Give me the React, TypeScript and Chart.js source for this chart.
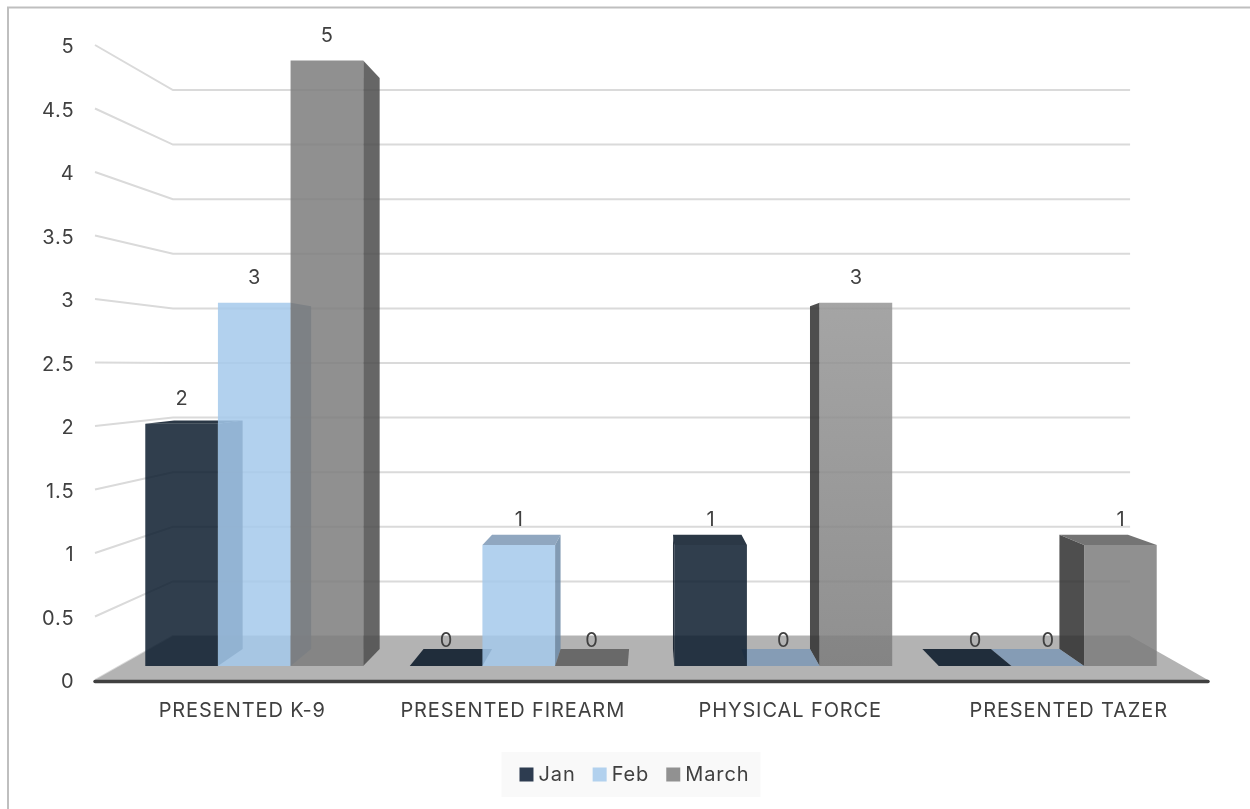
import React, { useEffect, useRef } from "react";
import { Chart, registerables } from "chart.js";

Chart.register(...registerables);

const categories = ["PRESENTED K-9", "PRESENTED FIREARM", "PHYSICAL FORCE", "PRESENTED TAZER"];
const janValues = [2, 0, 1, 0];
const febValues = [3, 1, 0, 0];
const marchValues = [5, 0, 3, 1];
const seriesNames = ["Jan", "Feb", "March"];
const yTicks = [0, 0.5, 1, 1.5, 2, 2.5, 3, 3.5, 4, 4.5, 5];

const FONT = "Inter";
const FS = 20;
const TEXT = "#404040";

const frontColors = ["rgba(12,28,46,0.85)", "rgba(165,201,235,0.85)", "rgba(125,125,125,0.85)"];
const legendColors = ["#2d3c50", "#b2d1ee", "#919191"];
const topColors = ["rgba(6,21,38,0.85)", "rgba(125,152,181,0.85)", "rgba(92,92,92,0.85)"];
const rightColors = ["rgba(15,30,50,0.85)", "rgba(108,138,167,0.85)", "rgba(75,75,75,0.85)"];
const leftColors = ["rgba(3,15,30,0.85)", "rgba(90,115,140,0.85)", "rgba(47,47,47,0.85)"];

// perspective of the 3D box
const VP = { x: 651.5, y: 366 };
const BAR_DEPTH = 0.943;
const WALL_DEPTH = 0.86;
const AREA_TOP = 45;
const AREA_BOTTOM = 680;
const AXIS_LEFT = 95;
const AXIS_RIGHT = 1208;
const labelShift = [-12, -6, 7, 21];

function rangeFor(y0: number, y5: number) {
  const perUnit = (y0 - y5) / 5;
  return { min: -(AREA_BOTTOM - y0) / perUnit, max: 5 + (y5 - AREA_TOP) / perUnit };
}

const back = (x: number, y: number, k: number): [number, number] => [VP.x + (x - VP.x) * k, VP.y + (y - VP.y) * k];

function poly(ctx: CanvasRenderingContext2D, pts: [number, number][], fill: string) {
  ctx.beginPath();
  pts.forEach((p, i) => (i ? ctx.lineTo(p[0], p[1]) : ctx.moveTo(p[0], p[1])));
  ctx.closePath();
  ctx.fillStyle = fill;
  ctx.fill();
}

const scene = {
  id: "scene",
  beforeLayout(chart: any) {
    chart.ctx.letterSpacing = "0.9px";
  },
  afterLayout(chart: any) {
    // the axis numbers sit 2px lower and 1px further right than canvas "middle" places them
    chart.scales.yAxis.getLabelItems().forEach((item: any) => {
      item.options.translation[1] += 2;
      item.options.translation[0] += 0.5;
    });
  },
  beforeDraw(chart: any) {
    const { ctx, legend } = chart;
    ctx.letterSpacing = "0.9px";
    ctx.save();
    ctx.fillStyle = "#ffffff";
    ctx.fillRect(0, 0, chart.width, chart.height);
    // frame
    ctx.strokeStyle = "#bfbfbf";
    ctx.lineWidth = 2;
    ctx.beginPath();
    ctx.moveTo(8, 809);
    ctx.lineTo(8, 7.5);
    ctx.lineTo(1250, 7.5);
    ctx.stroke();
    // legend plate
    const boxes = legend.legendHitBoxes;
    const first = boxes[0];
    const last = boxes[boxes.length - 1];
    const cy = legend.top + 32;
    ctx.fillStyle = "#f9f9f9";
    ctx.fillRect(first.left - 23, cy - 22.5, last.left + last.width - first.left + 34, 45);
    ctx.restore();
  },
  beforeDatasetsDraw(chart: any) {
    const { ctx, scales, chartArea } = chart;
    const yAxis = scales.yAxis;
    const yBack = scales.yBack;
    ctx.save();
    const bl = back(AXIS_LEFT, AREA_BOTTOM, WALL_DEPTH);
    const br = back(AXIS_RIGHT, AREA_BOTTOM, WALL_DEPTH);
    // wall grid
    ctx.strokeStyle = "#dadada";
    ctx.lineWidth = 2;
    yTicks.forEach((v) => {
      ctx.beginPath();
      ctx.moveTo(AXIS_LEFT, yAxis.getPixelForValue(v));
      ctx.lineTo(bl[0], yBack.getPixelForValue(v));
      ctx.lineTo(br[0], yBack.getPixelForValue(v));
      ctx.stroke();
    });
    // floor
    poly(ctx, [[AXIS_LEFT, AREA_BOTTOM], bl, br, [AXIS_RIGHT, AREA_BOTTOM]], "#b3b3b3");
    // bars, farthest from the vanishing point first
    const metas = [0, 1, 2].map((i) => chart.getDatasetMeta(i));
    categories.forEach((_, c) => {
      const leftOfVP = metas[0].data[c].x < VP.x;
      const order = leftOfVP ? [0, 1, 2] : [2, 1, 0];
      order.forEach((d) => {
        const el = metas[d].data[c];
        const l = el.x - el.width / 2;
        const r = el.x + el.width / 2;
        const t = el.y;
        const b = el.base;
        const k = BAR_DEPTH;
        if (r < VP.x) poly(ctx, [[r, t], back(r, t, k), back(r, b, k), [r, b]], rightColors[d]);
        if (l > VP.x && t !== b) poly(ctx, [[l, t], back(l, t, k), back(l, b, k), [l, b]], leftColors[d]);
        if (t > VP.y) poly(ctx, [[l, t], back(l, t, k), back(r, t, k), [r, t]], topColors[d]);
        if (t !== b) el.draw(ctx, chartArea);
      });
    });
    // axis line
    ctx.strokeStyle = "#404040";
    ctx.lineWidth = 3.5;
    ctx.lineCap = "round";
    ctx.beginPath();
    ctx.moveTo(AXIS_LEFT, AREA_BOTTOM + 1.5);
    ctx.lineTo(AXIS_RIGHT, AREA_BOTTOM + 1.5);
    ctx.stroke();
    // text
    ctx.fillStyle = TEXT;
    ctx.font = `${FS}px ${FONT}`;
    ctx.textAlign = "center";
    ctx.textBaseline = "middle";
    metas.forEach((m, d) => {
      m.data.forEach((el: any, c: number) => {
        ctx.fillText(String(chart.data.datasets[d].data[c]), el.x + 0.5, el.y - 25);
      });
    });
    categories.forEach((name, c) => {
      ctx.fillText(name, scales.x.getPixelForTick(c) + labelShift[c], 711);
    });
    ctx.restore();
    return false;
  },
};

function frontFill(c: any) {
  if (c.type !== "data") return frontColors[c.datasetIndex];
  if (c.datasetIndex === 2 && c.dataIndex === 2) {
    const y = c.chart.scales.y;
    const g = c.chart.ctx.createLinearGradient(0, y.getPixelForValue(3), 0, y.getPixelForValue(0));
    g.addColorStop(0, "rgba(149,149,149,0.85)");
    g.addColorStop(1, "rgba(124,124,124,0.85)");
    return g;
  }
  return frontColors[c.datasetIndex];
}

export default function App() {
  const ref = useRef<HTMLCanvasElement>(null);
  useEffect(() => {
    const chart = new Chart(ref.current as HTMLCanvasElement, {
      type: "bar",
      data: {
        labels: categories,
        datasets: [janValues, febValues, marchValues].map((data, i) => ({
          label: seriesNames[i],
          data,
          yAxisID: "y",
          backgroundColor: frontFill,
          borderWidth: 0,
          categoryPercentage: 0.824,
          barPercentage: 1,
        })),
      },
      options: {
        animation: false,
        responsive: false,
        devicePixelRatio: 1,
        layout: { padding: { left: 24, right: 0, top: AREA_TOP, bottom: 14.5 } },
        plugins: {
          tooltip: { enabled: false },
          legend: {
            position: "bottom",
            labels: {
              color: TEXT,
              font: { family: FONT, size: FS },
              usePointStyle: true,
              boxWidth: 4,
              boxHeight: 14,
              padding: 22,
              generateLabels: () =>
                seriesNames.map((text, i) => ({
                  text,
                  fillStyle: legendColors[i],
                  strokeStyle: legendColors[i],
                  lineWidth: 0,
                  pointStyle: "rect",
                  datasetIndex: i,
                  fontColor: TEXT,
                })),
            },
          },
        },
        scales: {
          x: {
            type: "category",
            grid: { display: false },
            border: { display: false },
            ticks: { display: false },
            afterFit: (s: any) => {
              s.height = 62.5;
            },
          },
          y: { type: "linear", display: false, ...rangeFor(666, 60.5) },
          yBack: {
            type: "linear",
            position: "right",
            grid: { display: false },
            border: { display: false },
            ticks: { display: false },
            afterFit: (s: any) => {
              s.width = 70;
            },
            ...rangeFor(636, 90),
          },
          yAxis: {
            type: "linear",
            position: "left",
            min: 0,
            max: 5,
            grid: { display: false, drawTicks: false },
            border: { display: false },
            ticks: {
              stepSize: 0.5,
              padding: 48,
              color: TEXT,
              font: { family: FONT, size: FS },
              autoSkip: false,
              callback: (v: any) => String(v),
            },
            afterFit: (s: any) => {
              s.width = 98;
              s.paddingTop = 0;
              s.paddingBottom = 0;
            },
          },
        },
      },
      plugins: [scene],
    } as any);
    return () => chart.destroy();
  }, []);
  return (
    <canvas
      ref={ref}
      width={1250}
      height={809}
      style={{ position: "fixed", left: 0, top: 0, width: 1250, height: 809 }}
    />
  );
}
